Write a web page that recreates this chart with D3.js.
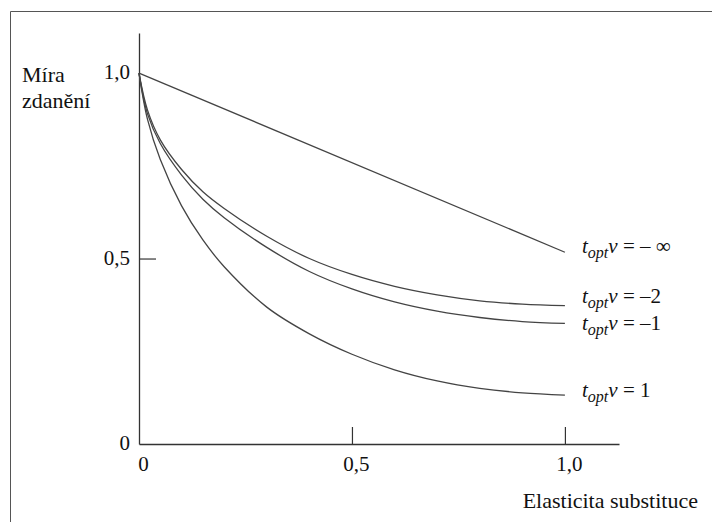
<!DOCTYPE html>
<html>
<head>
<meta charset="utf-8">
<script src="https://cdn.jsdelivr.net/npm/d3@7"></script>
<style>
  body { margin: 0; background: #fff; }
  svg text { fill: #111; }
</style>
</head>
<body>
<div id="chart"></div>
<script>
var svgWidth = 712;
var svgHeight = 522;

// elasticity of substitution (x) and tax rate for each curve
var sigma = [0, 0.02, 0.05, 0.1, 0.15, 0.2, 0.3, 0.4, 0.5, 0.6, 0.7, 0.8, 0.9, 1.0];
var rateMinus2 = [1.0, 0.90, 0.82, 0.74, 0.68, 0.635, 0.56, 0.50, 0.457, 0.425, 0.402, 0.386, 0.377, 0.373];
var rateMinus1 = [1.0, 0.89, 0.81, 0.725, 0.66, 0.61, 0.53, 0.465, 0.418, 0.383, 0.358, 0.341, 0.330, 0.325];
var ratePlus1 = [1.0, 0.875, 0.767, 0.642, 0.55, 0.478, 0.369, 0.297, 0.242, 0.20, 0.17, 0.15, 0.138, 0.132];
var sigmaInf = [0, 1.0];
var rateInf = [1.0, 0.517];

var seriesNames = ["– ∞", "–2", "–1", "1"];
var xTicks = [0, 0.5, 1.0];
var yTicks = [0, 0.5, 1.0];

var serif = "'Liberation Serif', 'Times New Roman', Tinos, 'Noto Serif', 'DejaVu Serif', serif";

var svg = d3.select("#chart")
    .append("svg")
    .attr("width", svgWidth)
    .attr("height", svgHeight)
    .attr("font-family", serif);

// frame of the scanned figure
svg.append("path")
    .attr("d", "M10.5,522 L10.5,11.5 L712,11.5")
    .attr("fill", "none")
    .attr("stroke", "#555")
    .attr("stroke-width", 1);

var x = d3.scaleLinear().domain([0, 1.127]).range([139, 619]);
var y = d3.scaleLinear().domain([0, 1.108]).range([444, 33]);

var fmt = function (d) {
    return d === 0 ? "0" : d3.format(".1f")(d).replace(".", ",");
};

// x axis, ticks pointing inward
var xAxis = svg.append("g")
    .attr("transform", "translate(0," + y(0) + ")")
    .call(d3.axisBottom(x).tickValues(xTicks).tickSizeInner(-17).tickSizeOuter(0).tickFormat(fmt));

var yAxis = svg.append("g")
    .attr("transform", "translate(" + x(0) + ",0)")
    .call(d3.axisLeft(y).tickValues(yTicks).tickSizeInner(-17).tickSizeOuter(0).tickFormat(fmt));

[xAxis, yAxis].forEach(function (ax) {
    ax.attr("font-family", serif);
    ax.select(".domain").attr("stroke", "#333").attr("stroke-width", 1.3);
    ax.selectAll(".tick line")
        .attr("stroke", "#333")
        .attr("stroke-width", 1.2)
        .attr("display", d => d === 0 || (d === 1.0 && ax === yAxis) ? "none" : null);
    ax.selectAll(".tick text")
        .attr("font-size", 21)
        .attr("fill", "#111");
});
xAxis.selectAll(".tick text").attr("y", 12).attr("dx", 4).attr("dy", "0.71em");
yAxis.selectAll(".tick text").attr("x", -9).attr("dy", "0.28em");

// curves
var line = d3.line()
    .x(d => x(d[0]))
    .y(d => y(d[1]))
    .curve(d3.curveCatmullRom.alpha(0.5));

var curves = [
    d3.zip(sigmaInf, rateInf),
    d3.zip(sigma, rateMinus2),
    d3.zip(sigma, rateMinus1),
    d3.zip(sigma, ratePlus1)
];

svg.selectAll(".curve")
    .data(curves)
    .enter()
    .append("path")
    .attr("class", "curve")
    .attr("d", line)
    .attr("fill", "none")
    .attr("stroke", "#444")
    .attr("stroke-width", 1.3);

// curve labels  t_opt v = ...
var labelY = [253, 303, 330, 397];
var labels = svg.selectAll(".lbl")
    .data(seriesNames)
    .enter()
    .append("text")
    .attr("class", "lbl")
    .attr("x", 582)
    .attr("y", (d, i) => labelY[i])
    .attr("font-size", 21);

labels.append("tspan").attr("font-style", "italic").text("t");
labels.append("tspan").attr("font-style", "italic").attr("font-size", 16).attr("dy", 5).text("opt");
labels.append("tspan").attr("font-style", "italic").attr("dy", -5).text("ν");
labels.append("tspan").text(d => " = " + d);

// axis titles
svg.append("text")
    .attr("x", 22)
    .attr("y", 82)
    .attr("font-size", 22)
    .text("Míra");
svg.append("text")
    .attr("x", 22)
    .attr("y", 108)
    .attr("font-size", 22)
    .text("zdanění");
svg.append("text")
    .attr("x", 698)
    .attr("y", 508)
    .attr("text-anchor", "end")
    .attr("font-size", 22)
    .text("Elasticita substituce");
</script>
</body>
</html>
